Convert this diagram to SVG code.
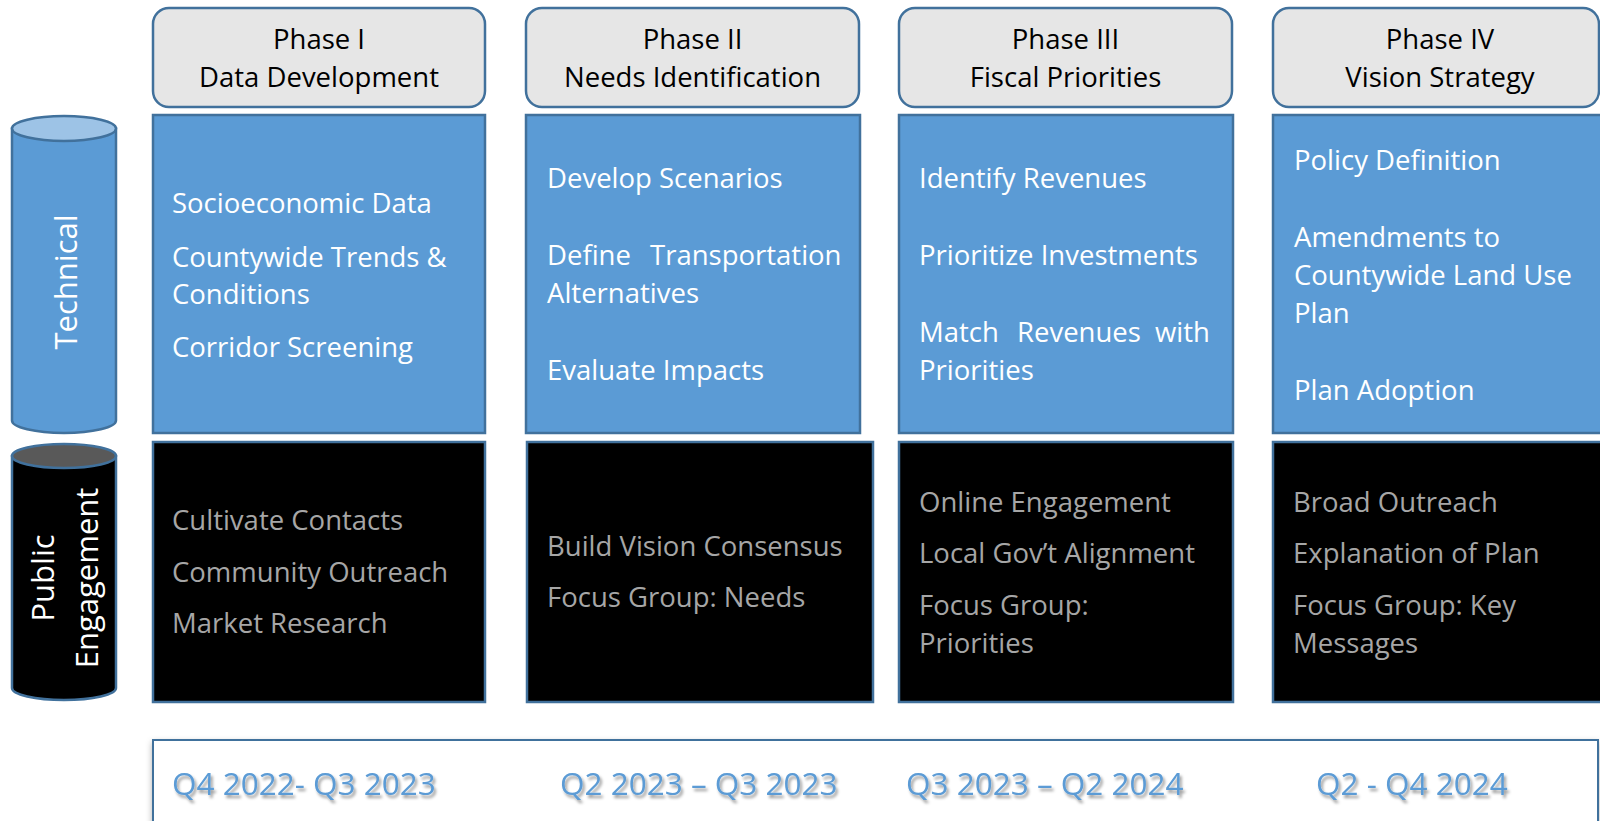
<svg xmlns="http://www.w3.org/2000/svg" width="1600" height="821" viewBox="0 0 1600 821">
<defs>
<style>
.hdr{fill:#E6E6E6;stroke:#41719C;stroke-width:2.5}
.tech{fill:#5B9BD5;stroke:#41719C;stroke-width:2.5}
.pub{fill:#000;stroke:#41719C;stroke-width:2.5}
.ht{font-family:"Open Sans","Noto Sans",sans-serif;font-size:27.5px;fill:#000;text-anchor:middle}
.wt{font-family:"Open Sans","Noto Sans",sans-serif;font-size:27.5px;fill:#FFFFFF}
.gt{font-family:"Open Sans","Noto Sans",sans-serif;font-size:27.5px;fill:#A6A6A6}
.side{font-family:"Open Sans","Noto Sans",sans-serif;font-size:31px;fill:#FFFFFF;text-anchor:middle}
.dt{font-family:"Open Sans","Noto Sans",sans-serif;font-size:31.5px;fill:#5B9BD5}
</style>
<filter id="ts" x="-10%" y="-30%" width="120%" height="170%">
<feDropShadow dx="2" dy="3" stdDeviation="1.8" flood-color="#000" flood-opacity="0.4"/>
</filter>
<filter id="bs" x="-5%" y="-20%" width="110%" height="140%">
<feDropShadow dx="0" dy="3" stdDeviation="3" flood-color="#000" flood-opacity="0.3"/>
</filter>
</defs>
<rect width="1600" height="821" fill="#FFFFFF"/>

<g id="cyl-technical">
<path d="M12,128.5 V420.5 A52,12.5 0 0 0 116,420.5 V128.5 Z" fill="#5B9BD5" stroke="#41719C" stroke-width="2.5"/>
<ellipse cx="64" cy="128.5" rx="52" ry="12.5" fill="#9DC3E6" stroke="#41719C" stroke-width="2.5"/>
<text class="side" transform="translate(77,282) rotate(-90)">Technical</text>
</g>

<g id="cyl-public">
<path d="M12,456 V688 A52,12 0 0 0 116,688 V456 Z" fill="#000" stroke="#41719C" stroke-width="2.5"/>
<ellipse cx="64" cy="456" rx="52" ry="12" fill="#595959" stroke="#41719C" stroke-width="2.5"/>
<text class="side" transform="translate(54,578) rotate(-90)">Public</text>
<text class="side" transform="translate(98,578) rotate(-90)">Engagement</text>
</g>

<g id="phase1">
<rect class="hdr" x="153" y="8" width="332" height="99" rx="16"/>
<text class="ht" x="319" y="49">Phase I</text>
<text class="ht" x="319" y="87">Data Development</text>
</g>
<g id="phase2">
<rect class="hdr" x="526" y="8" width="333" height="99" rx="16"/>
<text class="ht" x="692.5" y="49">Phase II</text>
<text class="ht" x="692.5" y="87">Needs Identification</text>
</g>
<g id="phase3">
<rect class="hdr" x="899" y="8" width="333" height="99" rx="16"/>
<text class="ht" x="1065.5" y="49">Phase III</text>
<text class="ht" x="1065.5" y="87">Fiscal Priorities</text>
</g>
<g id="phase4">
<rect class="hdr" x="1273" y="8" width="326" height="99" rx="16"/>
<text class="ht" x="1440" y="49">Phase IV</text>
<text class="ht" x="1440" y="87">Vision Strategy</text>
</g>

<g id="tech1">
<rect class="tech" x="153" y="115" width="332" height="318"/>
<text class="wt" x="172" y="213">Socioeconomic Data</text>
<text class="wt" x="172" y="267">Countywide Trends &amp;</text>
<text class="wt" x="172" y="304">Conditions</text>
<text class="wt" x="172" y="357">Corridor Screening</text>
</g>
<g id="tech2">
<rect class="tech" x="526" y="115" width="334" height="318"/>
<text class="wt" x="547" y="188">Develop Scenarios</text>
<text class="wt" y="265"><tspan x="547">Define</tspan><tspan x="650">Transportation</tspan></text>
<text class="wt" x="547" y="303">Alternatives</text>
<text class="wt" x="547" y="380">Evaluate Impacts</text>
</g>
<g id="tech3">
<rect class="tech" x="899" y="115" width="334" height="318"/>
<text class="wt" x="919" y="188">Identify Revenues</text>
<text class="wt" x="919" y="265">Prioritize Investments</text>
<text class="wt" y="342"><tspan x="919">Match</tspan><tspan x="1017">Revenues</tspan><tspan x="1155">with</tspan></text>
<text class="wt" x="919" y="380">Priorities</text>
</g>
<g id="tech4">
<rect class="tech" x="1273" y="115" width="340" height="318"/>
<text class="wt" x="1294" y="170">Policy Definition</text>
<text class="wt" x="1294" y="247">Amendments to</text>
<text class="wt" x="1294" y="285">Countywide Land Use</text>
<text class="wt" x="1294" y="323">Plan</text>
<text class="wt" x="1294" y="400">Plan Adoption</text>
</g>

<g id="pub1">
<rect class="pub" x="153" y="442" width="332" height="260"/>
<text class="gt" x="172" y="530">Cultivate Contacts</text>
<text class="gt" x="172" y="582">Community Outreach</text>
<text class="gt" x="172" y="633">Market Research</text>
</g>
<g id="pub2">
<rect class="pub" x="527" y="442" width="346" height="260"/>
<text class="gt" x="547" y="556">Build Vision Consensus</text>
<text class="gt" x="547" y="607">Focus Group: Needs</text>
</g>
<g id="pub3">
<rect class="pub" x="899" y="442" width="334" height="260"/>
<text class="gt" x="919" y="512">Online Engagement</text>
<text class="gt" x="919" y="563">Local Gov’t Alignment</text>
<text class="gt" x="919" y="615">Focus Group:</text>
<text class="gt" x="919" y="653">Priorities</text>
</g>
<g id="pub4">
<rect class="pub" x="1273" y="442" width="340" height="260"/>
<text class="gt" x="1293" y="512">Broad Outreach</text>
<text class="gt" x="1293" y="563">Explanation of Plan</text>
<text class="gt" x="1293" y="615">Focus Group: Key</text>
<text class="gt" x="1293" y="653">Messages</text>
</g>

<g id="timeline">
<rect x="153" y="740" width="1445" height="100" fill="#FFFFFF" stroke="#41719C" stroke-width="2" filter="url(#bs)"/>
<g filter="url(#ts)">
<text class="dt" x="172" y="795">Q4 2022- Q3 2023</text>
<text class="dt" x="560" y="795">Q2 2023 – Q3 2023</text>
<text class="dt" x="906" y="795">Q3 2023 – Q2 2024</text>
<text class="dt" x="1316" y="795">Q2 - Q4 2024</text>
</g>
</g>

<g id="connectors"/>
</svg>
